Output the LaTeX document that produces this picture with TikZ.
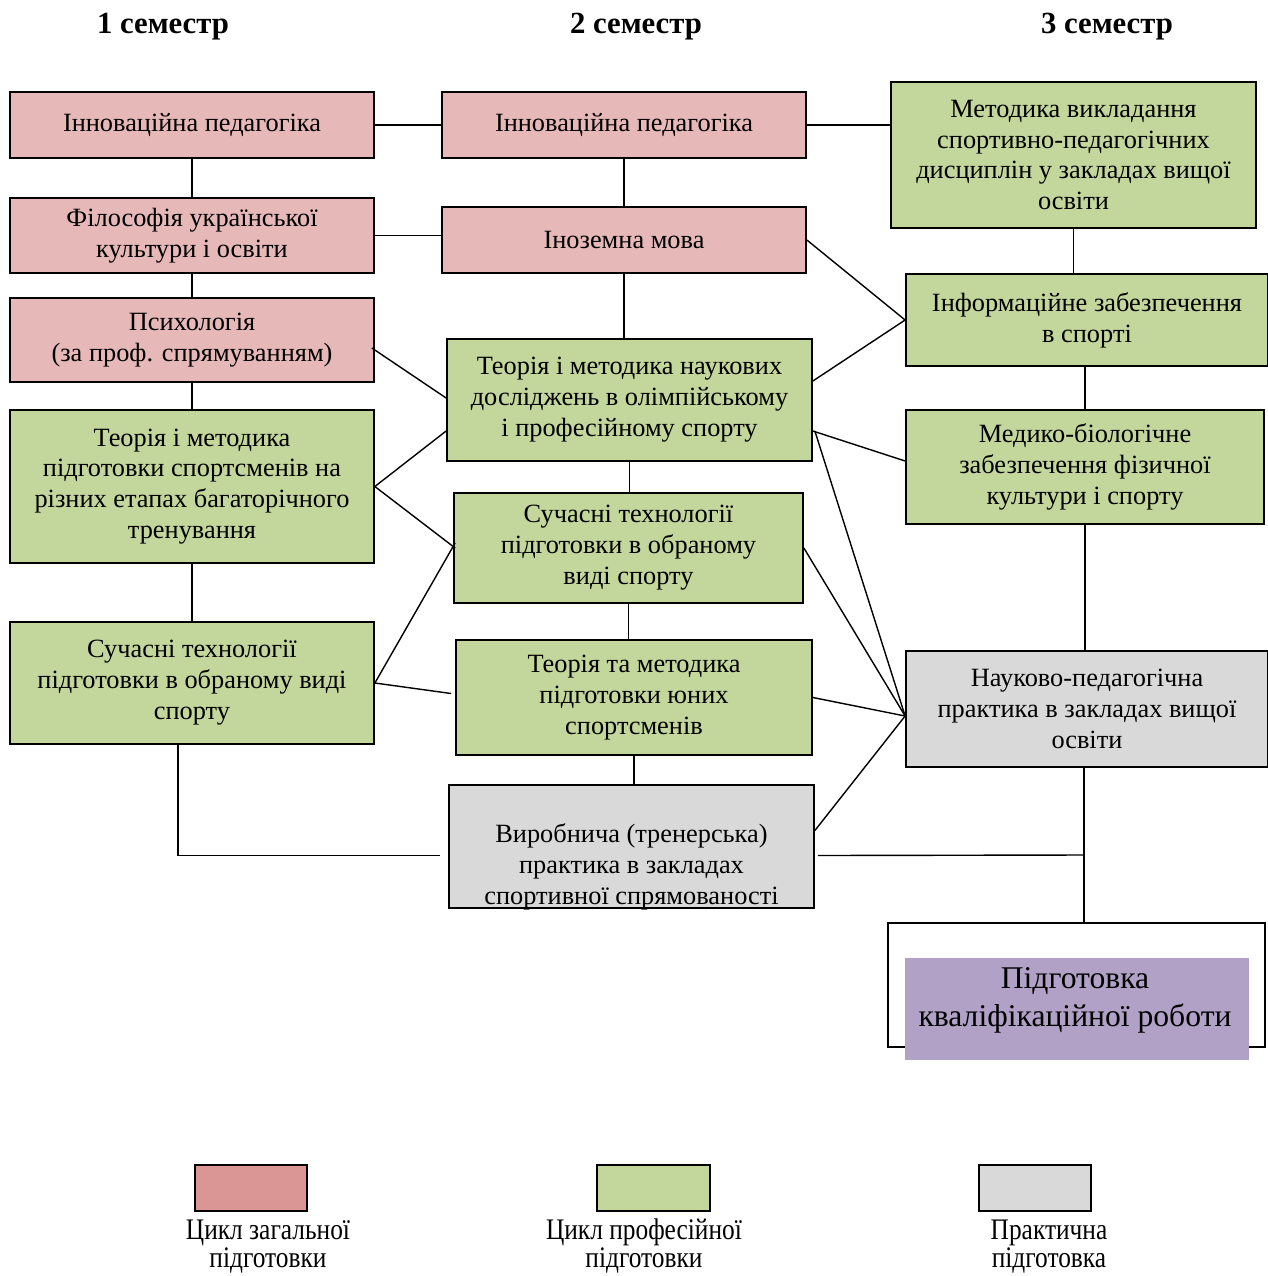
\documentclass[tikz,border=0pt]{standalone}
\usepackage{fontspec}
\setmainfont{Liberation Serif}
\newfontfamily\narrowfont[FakeStretch=0.85]{Liberation Serif}
\usetikzlibrary{calc}

\definecolor{pinkfill}{HTML}{E6B9B8}
\definecolor{pinkdark}{HTML}{D99694}
\definecolor{greenfill}{HTML}{C3D69B}
\definecolor{greyfill}{HTML}{D9D9D9}
\definecolor{purplefill}{HTML}{B2A1C7}

\tikzset{
    course/.style={draw, line width=1pt, align=center, inner sep=0pt,
        font=\fontsize{15}{17.6}\selectfont},
    boxsize/.style 2 args={minimum width=#1*0.02cm, minimum height=#2*0.02cm},
    general/.style={course, fill=pinkfill},
    prof/.style={course, fill=greenfill},
    practice/.style={course, fill=greyfill},
    link/.style={line width=0.8pt},
    semester/.style={font=\fontsize{17.5}{20}\selectfont\bfseries},
    legendtext/.style={align=center, inner sep=0pt, font=\fontsize{17}{16}\selectfont\narrowfont},
}

\begin{document}
\begin{tikzpicture}[x=0.02cm, y=-0.02cm]

\useasboundingbox (0,0) rectangle (1268,1276);

\node[semester] (sem1) at ( 163, 27) {1 семестр};
\node[semester] (sem2) at ( 636, 27) {2 семестр};
\node[semester] (sem3) at (1107, 27) {3 семестр};

% 1 semester
\node[general, boxsize={364}{66}]  (A1) at (192, 125)   {Інноваційна педагогіка};
\node[general, boxsize={364}{75}]  (A2) at (192, 235.5) {Філософія української\\культури і освіти};
\node[general, boxsize={364}{84}]  (A3) at (192, 340)   {Психологія\\(за проф. спрямуванням)};
\node[prof,    boxsize={364}{153}] (A4) at (192, 486.5) {Теорія і методика\\підготовки спортсменів на\\різних етапах багаторічного\\тренування};
\node[prof,    boxsize={364}{122}] (A5) at (192, 683)   {Сучасні технології\\підготовки в обраному виді\\спорту};

% 2 semester
\node[general,  boxsize={364}{66}]  (B1) at (624, 125)   {Інноваційна педагогіка};
\node[general,  boxsize={364}{66}]  (B2) at (624, 240)   {Іноземна мова};
\node[prof,     boxsize={365}{122}] (B3) at (629.5, 400) {Теорія і методика наукових\\досліджень в олімпійському\\і професійному спорту};
\node[prof,     boxsize={349}{110}] (B4) at (628.5, 548) {Сучасні технології\\підготовки в обраному\\виді спорту};
\node[prof,     boxsize={356}{115}] (B5) at (634, 697.5) {Теорія та методика\\підготовки юних\\спортсменів};
\node[practice, boxsize={365}{123}] (B6) at (631.5, 846.5) {};
\node[course, draw=none] (B6text) at (631.5, 867) {Виробнича (тренерська)\\практика в закладах\\спортивної спрямованості};

% 3 semester
\node[prof,     boxsize={365}{146}] (C1) at (1073.5, 155) {Методика викладання\\спортивно-педагогічних\\дисциплін у закладах вищої\\освіти};
\node[prof,     boxsize={362}{92}]  (C2) at (1087, 320)   {Інформаційне забезпечення\\в спорті};
\node[prof,     boxsize={358}{114}] (C3) at (1085, 467)   {Медико-біологічне\\забезпечення фізичної\\культури і спорту};
\node[practice, boxsize={362}{116}] (C4) at (1087, 709)   {Науково-педагогічна\\практика в закладах вищої\\освіти};

\node[course, fill=white, boxsize={377}{124}] (thesisframe) at (1076.5, 985) {};
\node[course, draw=none, fill=purplefill, boxsize={344}{102}] (thesis) at (1077, 1009) {};
\node[align=center, font=\fontsize{18}{21.5}\selectfont] (thesistext) at (1075, 1000) {Підготовка\\кваліфікаційної роботи};

% links
\draw[link] (A1.east) -- (B1.west);
\draw[link] (B1.east) -- (B1.east -| C1.west);
\draw[link] (A2.east) -- (A2.east -| B2.west);
\draw[link] (A1.south) -- (A2.north);
\draw[link] (A2.south) -- (A3.north);
\draw[link] (A3.south) -- (A4.north);
\draw[link] (A4.south) -- (A5.north);

\draw[link] (B1.south) -- (B2.north);
\draw[link] (B2.south) -- (B2.south |- B3.north);
\draw[link] (B3.south) -- (B3.south |- B4.north);
\draw[link] (B4.south) -- (B4.south |- B5.north);
\draw[link] (B5.south) -- (B5.south |- B6.north);

\draw[link] (C1.south) -- (C1.south |- C2.north);
\draw[link] (C3.north) -- (C3.north |- C2.south);
\draw[link] (C3.south) -- (C3.south |- C4.north);

\draw[link] ($(A3.east)+(-3,8)$) -- ($(B3.west)+(0,-2)$);
\draw[link] (A4.east) -- ($(B3.west)+(0,31)$);
\draw[link] (A4.east) -- ($(B4.west)+(2,0)$);
\draw[link] (A5.east) -- ($(B4.west)+(2,-5)$);
\draw[link] (A5.east) -- ($(B5.west)+(-4,-4)$);

\draw[link] (B2.east) -- (C2.west);
\draw[link] ($(B3.east)+(0,-19)$) -- (C2.west);
\draw[link] ($(B3.east)+(0,31)$) -- ($(C3.west)+(0,-6)$);

\coordinate (C4in) at ($(C4.west)+(0,7)$);
\draw[link] ($(B3.east)+(2,31)$) -- (C4in);
\draw[link] (B4.east) -- (C4in);
\draw[link] (B5.east) -- (C4in);
\draw[link] ($(B6.east)+(0,-16)$) -- (C4in);

\coordinate (tap) at ($(C4.south)+(-3,0)$);
\draw[link] (tap) -- (tap |- thesisframe.north);
\draw[link] ($(B6.east)+(3,9)$) -- (tap |- 0,855);
\draw[link] ($(A5.south)+(-14,0)$) |- ($(B6.west)+(-8,9)$);

% legend
\node[course, fill=pinkdark,  boxsize={112}{46}] (leg1) at ( 251, 1188) {};
\node[course, fill=greenfill, boxsize={113}{46}] (leg2) at ( 653.5, 1188) {};
\node[course, fill=greyfill,  boxsize={112}{46}] (leg3) at (1035, 1188) {};
\node[legendtext, anchor=south] (leg1text) at ( 268, 1274) {Цикл загальної\\підготовки};
\node[legendtext, anchor=south] (leg2text) at ( 644, 1274) {Цикл професійної\\підготовки};
\node[legendtext, anchor=south] (leg3text) at (1049, 1274) {Практична\\підготовка};

\end{tikzpicture}
\end{document}
